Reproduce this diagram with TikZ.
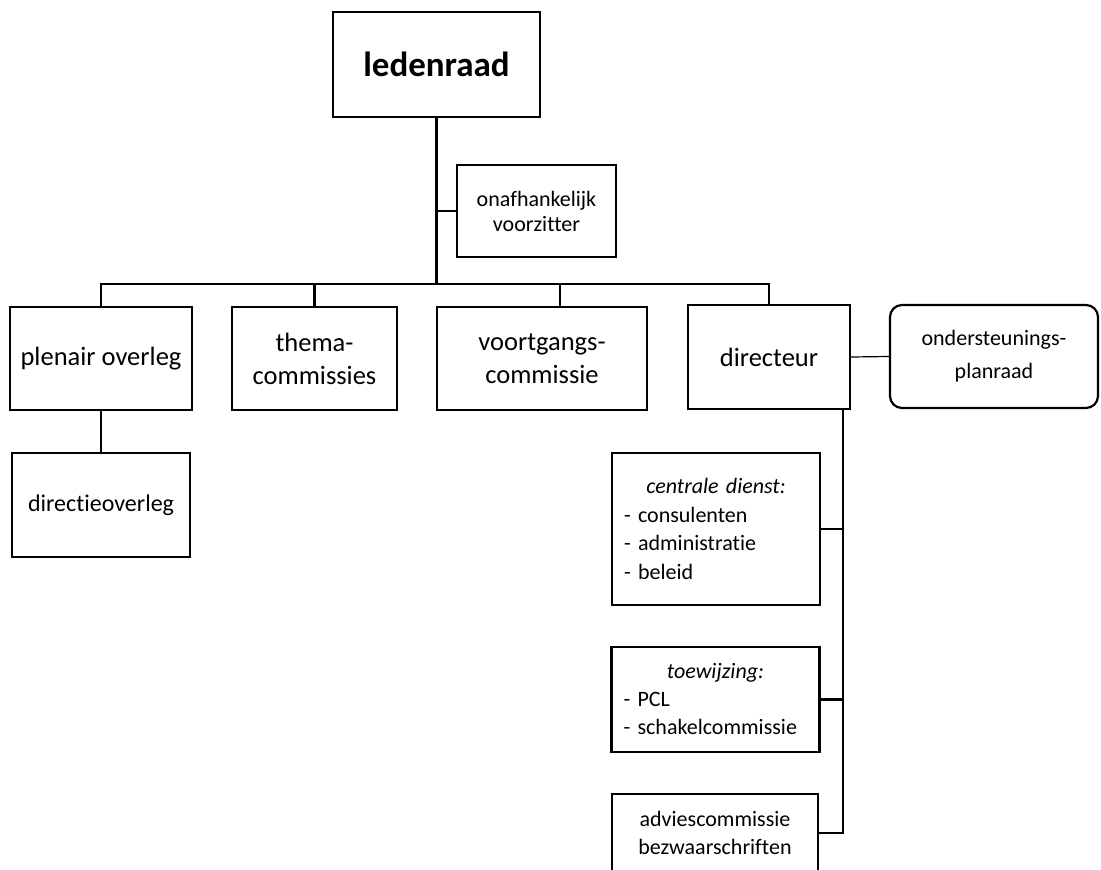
\documentclass[tikz,border=0pt]{standalone}
\usepackage{fontspec}
\setmainfont{Carlito}[Ligatures=NoCommon]
\begin{document}
\begin{tikzpicture}[x=1pt,y=-1pt,
  box/.style={draw, line width=2.2pt, align=center, inner sep=0pt},
  big/.style={font=\fontsize{26.5}{33}\selectfont},
  small/.style={font=\fontsize{22}{28}\selectfont},
  list/.style={box, small, align=left, inner xsep=12pt, text width=184pt},
  link/.style={draw, line width=2.4pt},
  thinlink/.style={draw, line width=1.2pt}]
\useasboundingbox (0,0) rectangle (1101,870);

\node[box, font=\bfseries\fontsize{35}{40}\selectfont, minimum width=207pt, minimum height=105pt] (leden) at (436.5,64.5) {ledenraad};
\node[box, font=\fontsize{22}{25}\selectfont, minimum width=159pt, minimum height=92pt] (voorz) at (536.5,211) {onafhankelijk\\voorzitter};

\node[box, big, minimum width=182pt, minimum height=103pt] (plenair) at (101,358.5) {plenair overleg};
\node[box, big, minimum width=165pt, minimum height=103pt] (thema) at (314.5,358.5) {thema-\\commissies};
\node[box, big, minimum width=210pt, minimum height=103pt] (voort) at (542,358.5) {voortgangs-\\commissie};
\node[box, big, minimum width=162pt, minimum height=104pt] (dir) at (769,357) {directeur};
\node[box, font=\fontsize{22}{33}\selectfont, rounded corners=12pt, minimum width=208pt, minimum height=103pt] (planraad) at (994,356.5) {ondersteunings-\\planraad};

\node[box, font=\fontsize{24}{30}\selectfont, minimum width=178pt, minimum height=104pt] (dirov) at (101,505) {directieoverleg};

\node[list, minimum height=152pt, font=\fontsize{22}{28.5}\selectfont] (centr) at (716,529) {{\centering\itshape centrale dienst:\par}- consulenten\\- administratie\\- beleid};
\node[list, minimum height=105pt] (toew) at (715.5,699.5) {{\centering\itshape toewijzing:\par}- PCL\\- schakelcommissie};
\node[box, small, minimum width=206pt, minimum height=78pt] (advies) at (715,833) {adviescommissie\\bezwaarschriften};

\path[link] (plenair.north) -- ++(0,-22) coordinate (bus) -| (dir.north);
\path[link] (leden.south) -- (leden.south |- bus);
\path[thinlink] (voorz.west) -- (voorz.west -| leden.south);
\path[link] (thema.north) -- (thema.north |- bus);
\path[link] ([xshift=18pt]voort.north) -- ([xshift=18pt]voort.north |- bus);
\path[thinlink] (dir.east) -- (planraad.west);
\path[link] (plenair.south) -- (dirov.north);
\coordinate (spine) at ([xshift=74pt]dir.south);
\path[link] (spine) |- (advies.east);
\path[link] (centr.east) -- (centr.east -| spine);
\path[link] (toew.east) -- (toew.east -| spine);
\end{tikzpicture}
\end{document}
